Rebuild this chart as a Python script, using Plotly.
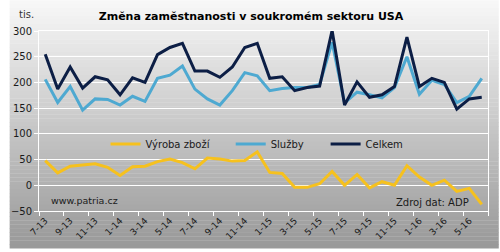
import plotly.graph_objects as go

months = ["7-13","8-13","9-13","10-13","11-13","12-13","1-14","2-14","3-14","4-14","5-14","6-14",
          "7-14","8-14","9-14","10-14","11-14","12-14","1-15","2-15","3-15","4-15","5-15","6-15",
          "7-15","8-15","9-15","10-15","11-15","12-15","1-16","2-16","3-16","4-16","5-16","6-16"]
vyroba = [48, 24, 37, 40, 42, 35, 19, 36, 37, 46, 51, 44,
          32, 53, 51, 47, 48, 65, 25, 23, -4, -4, 3, 27,
          0, 21, -5, 7, 0, 38, 16, 0, 10, -12, -6, -37]
sluzby = [206, 161, 192, 146, 168, 167, 156, 173, 163, 208, 214, 232,
          187, 168, 156, 184, 219, 213, 184, 188, 190, 190, 196, 278,
          160, 181, 176, 170, 190, 250, 177, 204, 196, 161, 173, 208]
celkem = [255, 187, 230, 189, 211, 205, 176, 209, 200, 254, 268, 276,
          222, 222, 210, 230, 268, 276, 208, 211, 184, 190, 193, 301,
          156, 201, 171, 176, 192, 288, 192, 208, 200, 148, 168, 171]
ytick_vals = [-50, 0, 50, 100, 150, 200, 250, 300]

x = list(range(len(months)))
font = "DejaVu Sans"
txt = "#1a1a1a"

fig = go.Figure()
fig.add_trace(go.Scatter(x=x, y=vyroba, mode="lines", name="Výroba zboží", showlegend=True,
                         line=dict(color="#f6c11e", width=3), legend="legend"))
fig.add_trace(go.Scatter(x=x, y=sluzby, mode="lines", name="Služby", showlegend=True,
                         line=dict(color="#4ea9d1", width=3), legend="legend2"))
fig.add_trace(go.Scatter(x=x, y=celkem, mode="lines", name="Celkem", showlegend=True,
                         line=dict(color="#0c1e45", width=3), legend="legend3"))

# background vertical gradient (full figure) as bands
L, R, T, B = 30, 489, 31, 214
W, H = 500, 252
shapes = []
n = 63
c0, c1 = 248, 152
for k in range(n):
    py0 = H * k / n
    py1 = H * (k + 1) / n
    t = (k + 0.5) / n
    c = int(round(c0 + (c1 - c0) * t))
    shapes.append(dict(type="rect", xref="paper", yref="paper", layer="below",
                       x0=(0 - L) / (R - L), x1=(W - L) / (R - L),
                       y0=(B - py1) / (B - T), y1=(B - py0) / (B - T) + 0.002,
                       fillcolor=f"rgb({c},{c},{c})", line=dict(width=0)))

def lx(px):
    return (px - L) / (R - L)

def ly(py):
    return (B - py) / (B - T)

legend_common = dict(orientation="h", bgcolor="rgba(0,0,0,0)", borderwidth=0,
                     font=dict(family=font, size=10, color=txt),
                     xanchor="left", yanchor="middle", itemwidth=30,
                     tracegroupgap=0)
fig.update_layout(
    width=W, height=H,
    margin=dict(l=L, r=W - R, t=T, b=H - B, pad=0),
    paper_bgcolor="rgba(0,0,0,0)", plot_bgcolor="rgba(0,0,0,0)",
    shapes=shapes,
    title=dict(text="<b>Změna zaměstnanosti v soukromém sektoru USA</b>",
               x=251 / W, xanchor="center", y=1 - 16 / H, yanchor="middle",
               font=dict(family=font, size=11, color="#000")),
    legend=dict(x=lx(98), y=ly(146), **legend_common),
    legend2=dict(x=lx(226), y=ly(146), **legend_common),
    legend3=dict(x=lx(323), y=ly(146), **legend_common),
    xaxis=dict(range=[-0.5, len(months) - 0.5], tickvals=x[::2], ticktext=months[::2],
               tickangle=-45, ticks="", showgrid=False, zeroline=False,
               showline=True, linecolor="white", linewidth=1, mirror=True,
               tickfont=dict(family=font, size=9, color=txt),
               minor=dict(tickvals=[i - 0.5 for i in x[::2]] + [len(months) - 0.5],
                          ticks="outside", ticklen=4, tickcolor="white", tickwidth=1,
                          showgrid=False)),
    yaxis=dict(range=[-50, 300], tickvals=ytick_vals, showgrid=True, gridcolor="white",
               gridwidth=1, zeroline=False, showline=True, linecolor="white", linewidth=1,
               mirror=True, ticks="outside", ticklen=4, tickcolor="white",
               tickfont=dict(family=font, size=10, color=txt)),
    annotations=[
        dict(text="tis.", xref="paper", yref="paper", x=lx(8), y=ly(14),
             xanchor="left", yanchor="middle", showarrow=False,
             font=dict(family=font, size=10, color="#333")),
        dict(text="www.patria.cz", xref="paper", yref="paper", x=lx(40), y=ly(203),
             xanchor="left", yanchor="middle", showarrow=False,
             font=dict(family=font, size=9.5, color=txt)),
        dict(text="Zdroj dat: ADP", xref="paper", yref="paper", x=lx(472), y=ly(205),
             xanchor="right", yanchor="middle", showarrow=False,
             font=dict(family=font, size=10, color=txt)),
    ],
)

fig.write_html("out.html")
